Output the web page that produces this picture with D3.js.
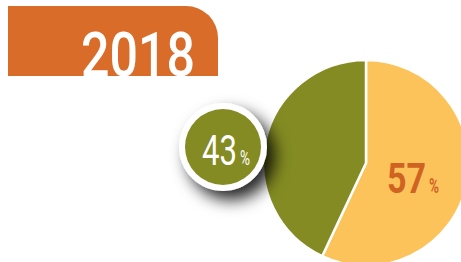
<!DOCTYPE html>
<html>
<head>
<meta charset="utf-8">
<script src="https://cdn.jsdelivr.net/npm/d3@7"></script>
<style>
  body { margin: 0; background: #fff; }
  svg { display: block; }
</style>
</head>
<body>
<div id="chart"></div>
<script>
// data
const year = "2018"
const shareLabels = ["Yes", "No"]
const shareValues = [57, 43]
const shareColors = ["#FDC35B", "#838B22"]

const width = 461
const height = 262
const font = "Roboto, 'DejaVu Sans Condensed', sans-serif"

const svg = d3.select("#chart")
  .append("svg")
    .attr("width", width)
    .attr("height", height)

// drop shadow for the badge
const defs = svg.append("defs")
const shadow = defs.append("filter")
    .attr("id", "shadow")
    .attr("x", "-50%").attr("y", "-50%")
    .attr("width", "220%").attr("height", "220%")
shadow.append("feDropShadow")
    .attr("dx", 8)
    .attr("dy", 9)
    .attr("stdDeviation", 8)
    .attr("flood-color", "#000")
    .attr("flood-opacity", 0.85)

// draws text then squeezes it horizontally to the wanted width
function condensedText(g, x, y, str, targetWidth, size, weight, color) {
  const t = g.append("text")
      .attr("font-family", font)
      .attr("font-weight", weight)
      .attr("font-size", size)
      .attr("fill", color)
      .text(str)
  const natural = t.node().getComputedTextLength()
  t.attr("transform", `translate(${x},${y}) scale(${targetWidth / natural},1)`)
  return t
}

// year banner with rounded top-right corner
const bx = 8, by = 6, bw = 210, bh = 70, br = 32
svg.append("path")
    .attr("d", `M${bx},${by} H${bx + bw - br} A${br},${br} 0 0 1 ${bx + bw},${by + br} V${by + bh} H${bx} Z`)
    .attr("fill", "#D96C28")

condensedText(svg, 81, 76, year, 114, 61, 500, "#fff")

// number + small percent sign
function percentLabel(g, x, y, value, numWidth, weight, color) {
  condensedText(g, x, y, value, numWidth, 42, weight, color)
  condensedText(g, x + numWidth + 3, y, "%", 10, 20, weight, color)
}

// pie
const cx = 366, cy = 163, radius = 103

const pie = d3.pie().sort(null).value(d => d)
const arc = d3.arc().innerRadius(0).outerRadius(radius)
const arcs = pie(shareValues)

const pieGroup = svg.append("g")
    .attr("transform", `translate(${cx},${cy})`)

pieGroup.selectAll("path")
  .data(arcs)
  .join("path")
    .attr("d", arc)
    .attr("fill", (d, i) => shareColors[i])
    .attr("stroke", "#fff")
    .attr("stroke-width", 2.5)
    .attr("stroke-linejoin", "round")

percentLabel(pieGroup, 21, 30, shareValues[0], 39, "bold", "#CF6422")

// badge for the small slice
const badge = svg.append("g")
    .attr("transform", "translate(223,147)")

badge.append("circle")
    .attr("r", 44)
    .attr("fill", "#fff")
    .attr("filter", "url(#shadow)")
badge.append("circle")
    .attr("r", 38)
    .attr("fill", shareColors[1])

percentLabel(badge, -21, 18, shareValues[1], 35, "normal", "#fff")
</script>
</body>
</html>
